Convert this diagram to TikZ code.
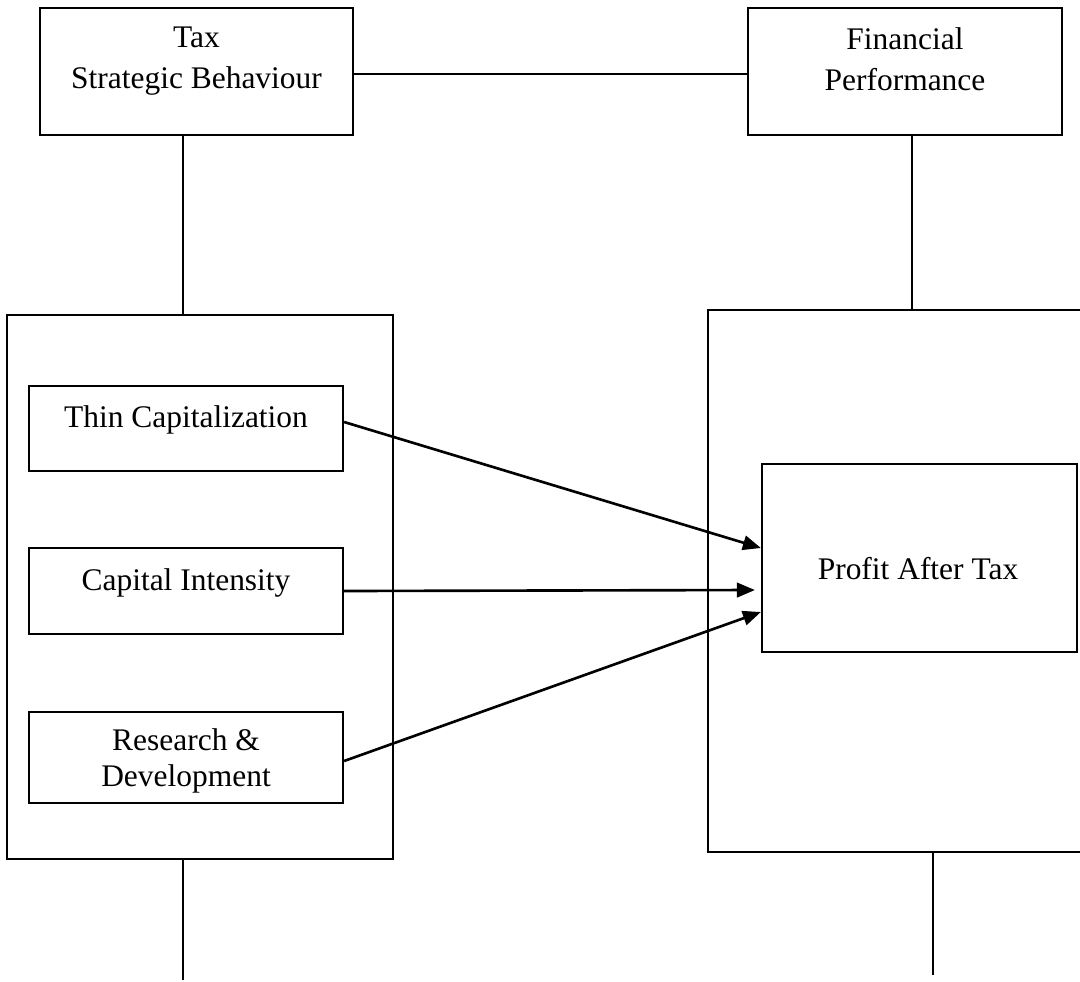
\documentclass[tikz,border=0pt]{standalone}
\usepackage{fontspec}
\setmainfont{Liberation Serif}
\usetikzlibrary{arrows.meta}
\tikzset{
  box/.style={draw, line width=1.25pt, inner sep=0pt},
  txt/.style={align=center, font=\fontsize{17.9}{23.3}\selectfont},
  link/.style={line width=1.25pt},
  arr/.style={line width=1.5pt, -{Triangle[length=3.6mm,width=2.9mm]}}
}
\begin{document}
\begin{tikzpicture}[x=0.2mm,y=-0.2mm]
\useasboundingbox (0,0) rectangle (1080,981);
% top boxes
\node[box, minimum width=62.6mm, minimum height=25.4mm] (tsb) at (196.5,71.5) {};
\node[txt] (tsb-t) at (196.5,61) {Tax\\Strategic Behaviour};
\node[box, minimum width=62.8mm, minimum height=25.4mm] (fp) at (905,71.5) {};
\node[txt] (fp-t) at (905,59) {Financial\\Performance};
% big boxes
\node[box, minimum width=77.2mm, minimum height=108.8mm] (left) at (200,587) {};
\node[box, minimum width=80mm, minimum height=108.4mm] (right) at (908,581) {};
% inner boxes
\node[box, minimum width=62.8mm, minimum height=17mm] (thin) at (186,428.5) {};
\node[txt] (thin-t) at (186,420) {Thin Capitalization};
\node[box, minimum width=62.8mm, minimum height=17.2mm] (capint) at (186,591) {};
\node[txt] (capint-t) at (186,583) {Capital Intensity};
\node[box, minimum width=62.8mm, minimum height=18.2mm] (rnd) at (186,757.5) {};
\node[txt, font=\fontsize{17.9}{20.5}\selectfont] (rnd-t) at (186,761) {Research \&\\Development};
\node[box, minimum width=63mm, minimum height=37.6mm] (pat) at (919.5,558) {};
\node[txt] (pat-t) at (918,569) {Profit After Tax};
% free ends
\coordinate (endl) at (183,980);
\coordinate (endr) at (933,975);
% lines
\draw[link] (tsb.east |- 0,74) -- (fp.west |- 0,74);
\draw[link] (tsb.south -| 183,0) -- (left.north -| 183,0);
\draw[link] (fp.south -| 912,0) -- (right.north -| 912,0);
\draw[link] (left.south -| endl) -- (endl);
\draw[link] (right.south -| endr) -- (endr);
% arrows
\draw[arr] ([yshift=1.3mm]thin.east) -- ([yshift=2mm]pat.west);
\draw[arr] (capint.east) -- ([xshift=-1.2mm,yshift=-6.4mm]pat.west);
\draw[arr] ([yshift=-0.7mm]rnd.east) -- ([yshift=-10.8mm]pat.west);
\end{tikzpicture}
\end{document}
